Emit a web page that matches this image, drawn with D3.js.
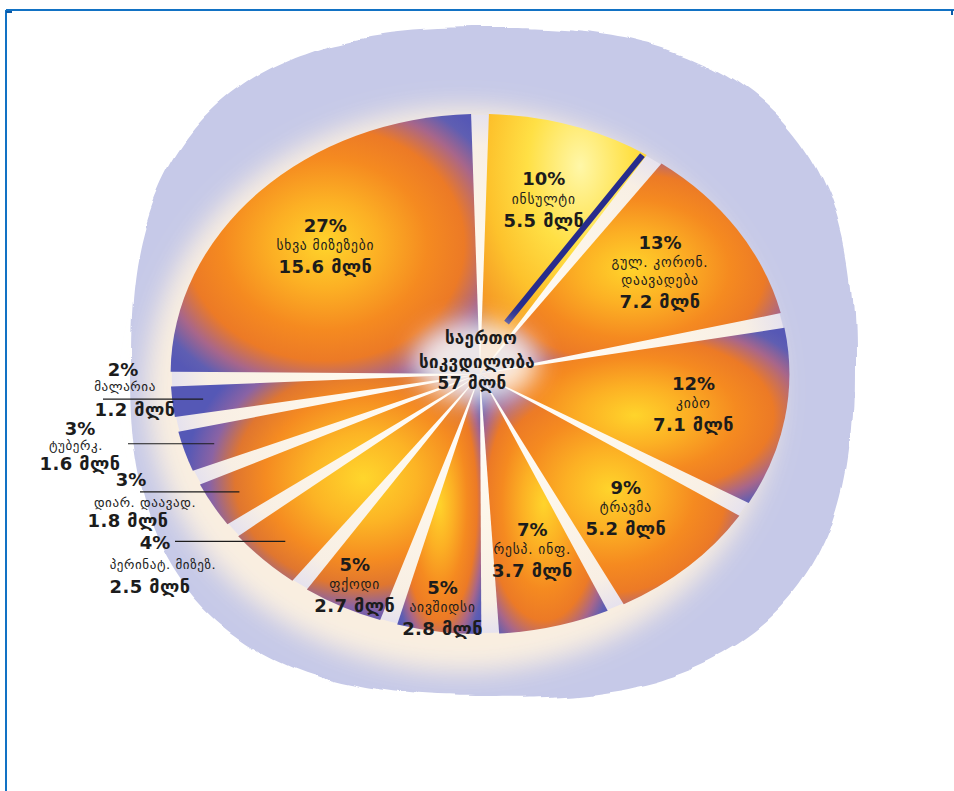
<!DOCTYPE html>
<html>
<head>
<meta charset="utf-8">
<script src="https://cdn.jsdelivr.net/npm/d3@7"></script>
<style>
  html, body { margin: 0; padding: 0; background: #ffffff; }
  svg { display: block; }
  text { font-family: "DejaVu Sans", sans-serif; fill: #1c1c1c; }
</style>
</head>
<body>
<svg id="chart" width="954" height="791"></svg>
<script>
// Causes of death, world total (million deaths), clockwise from 12 o'clock
const categories = ["ინსულტი", "გულ. კორონ.|დაავადება", "კიბო", "ტრავმა", "რესპ. ინფ.", "აივშიდსი",
                    "ფქოდი", "პერინატ. მიზეზ.", "დიარ. დაავად.", "ტუბერკ.", "მალარია", "სხვა მიზეზები"];
const percents   = [10, 13, 12, 9, 7, 5, 5, 4, 3, 3, 2, 27];
const deathsMln  = [5.5, 7.2, 7.1, 5.2, 3.7, 2.8, 2.7, 2.5, 1.8, 1.6, 1.2, 15.6];
const totalLines = ["საერთო", "სიკვდილობა"];
const totalMln   = 57;
const unit       = "მლნ";

// Text placement for the small slices whose labels sit to the left of the pie
// (text x columns and vertical offsets from the leader line)
const calloutLayout = {
  "პერინატ. მიზეზ.": { lineX: 175, pct: [155, 1],   name: [163, 23],  val: [150, 45] },
  "დიარ. დაავად.":   { lineX: 140, pct: [131, -12], name: [145, 11],  val: [128, 29] },
  "ტუბერკ.":         { lineX: 128, pct: [80, -15],  name: [76, 2],    val: [80, 20] },
  "მალარია":         { lineX: 103, pct: [123, -30], name: [125, -13], val: [135, 10] }
};

const W = 954, H = 791;
const cx = 480, cy = 374;   // pie centre
const R = 260;              // radius (vertical)
const k = 1.19;             // horizontal stretch of the pie
const gap = 15;             // width of the gaps between slices

const svg = d3.select("#chart");
const defs = svg.append("defs");

const data = categories.map((c, i) => ({ name: c, pct: percents[i], mln: deathsMln[i] }));
const pie = d3.pie().sort(null).value(d => d.mln).padAngle(gap / R);
const arcs = pie(data);
const arc = d3.arc().innerRadius(0).outerRadius(R).padRadius(R);

const toScreen = (a, r) => [cx + k * r * Math.sin(a), cy - r * Math.cos(a)];

// ---------- filters & gradients ----------
const rough = defs.append("filter").attr("id", "rough")
  .attr("x", "-10%").attr("y", "-10%").attr("width", "120%").attr("height", "120%");
rough.append("feTurbulence").attr("type", "fractalNoise").attr("baseFrequency", 0.011)
  .attr("numOctaves", 2).attr("seed", 7).attr("result", "noise");
rough.append("feDisplacementMap").attr("in", "SourceGraphic").attr("in2", "noise")
  .attr("scale", 15).attr("xChannelSelector", "R").attr("yChannelSelector", "G");

const soft = defs.append("filter").attr("id", "soft")
  .attr("x", "-20%").attr("y", "-20%").attr("width", "140%").attr("height", "140%");
soft.append("feGaussianBlur").attr("stdDeviation", 13);

const haze = defs.append("filter").attr("id", "haze")
  .attr("x", "-50%").attr("y", "-50%").attr("width", "200%").attr("height", "200%");
haze.append("feGaussianBlur").attr("stdDeviation", 12);

const diskGrad = defs.append("radialGradient").attr("id", "diskGrad");
[[0, "#ffffff"], [0.55, "#fdf6ea"], [0.88, "#f8efe4"], [1, "#e6e2ee"]].forEach(([o, c]) =>
  diskGrad.append("stop").attr("offset", o).attr("stop-color", c));

const warmStops = [[0, "#ffd42b"], [0.26, "#fcb024"], [0.5, "#f58a20"], [0.68, "#ec7a26"], [0.82, "#a8668a"], [0.93, "#5f5eb2"], [1, "#5658b5"]];
const sunStops  = [[0, "#fff7a8"], [0.35, "#ffe045"], [0.62, "#fdc22c"], [0.85, "#f59a26"], [1, "#c87a4e"]];

// shared glow for the narrow slices in the lower left (user space of the pie group)
const fanGrad = defs.append("radialGradient").attr("id", "fanGrad")
  .attr("gradientUnits", "userSpaceOnUse")
  .attr("cx", -98).attr("cy", 104).attr("r", 150);
[[0, "#ffd62c"], [0.3, "#fcb425"], [0.55, "#f58b21"], [0.72, "#e0762f"], [0.86, "#8a63a4"], [1, "#5558b6"]]
  .forEach(([o, c]) => fanGrad.append("stop").attr("offset", o).attr("stop-color", c));

arcs.forEach((d, i) => {
  const isSun = d.data.name === "ინსულტი";
  const g = defs.append("radialGradient").attr("id", "slice" + i)
    .attr("cx", isSun ? 0.6 : 0.5).attr("cy", isSun ? 0.2 : 0.5)
    .attr("r", isSun ? 0.9 : 0.66);
  (isSun ? sunStops : warmStops).forEach(([o, c]) =>
    g.append("stop").attr("offset", o).attr("stop-color", c));
});

// ---------- frame ----------
svg.append("line").attr("x1", 6).attr("x2", W).attr("y1", 10).attr("y2", 10)
  .attr("stroke", "#1272c4").attr("stroke-width", 2);
svg.append("line").attr("x1", 6).attr("x2", 6).attr("y1", 10).attr("y2", H)
  .attr("stroke", "#1272c4").attr("stroke-width", 2);
svg.append("line").attr("x1", 6).attr("x2", 12).attr("y1", 12).attr("y2", 12)
  .attr("stroke", "#0b5aa8").attr("stroke-width", 2);
svg.append("line").attr("x1", 952).attr("x2", 952).attr("y1", 10).attr("y2", 15)
  .attr("stroke", "#0b5aa8").attr("stroke-width", 2);

// ---------- lavender backdrop (superellipse with a rough edge) ----------
const bx = 492, by = 363, ba = 362, bb = 334, bn = 2.6;
const blobPts = d3.range(0, 360, 2).map(t => {
  const a = t * Math.PI / 180, c = Math.cos(a), s = Math.sin(a);
  return [bx + ba * Math.sign(c) * Math.pow(Math.abs(c), 2 / bn),
          by + bb * Math.sign(s) * Math.pow(Math.abs(s), 2 / bn)];
});
svg.append("path")
  .attr("d", d3.line().curve(d3.curveCatmullRomClosed)(blobPts))
  .attr("fill", "#c6c9e8")
  .attr("filter", "url(#rough)");

// cream glow around the pie
svg.append("ellipse")
  .attr("cx", cx - 18).attr("cy", cy + 16)
  .attr("rx", R * k + 6).attr("ry", R + 22)
  .attr("fill", "#fff3e0").attr("opacity", 0.9)
  .attr("filter", "url(#soft)");

// ---------- pie ----------
const pieG = svg.append("g").attr("transform", `translate(${cx},${cy}) scale(${k},1)`);

pieG.append("ellipse").attr("rx", R - 1).attr("ry", R - 1).attr("fill", "url(#diskGrad)");

const fanNames = new Set(["ფქოდი", "პერინატ. მიზეზ.", "დიარ. დაავად.", "ტუბერკ.", "მალარია"]);

pieG.selectAll("path.slice")
  .data(arcs)
  .join("path")
  .attr("class", "slice")
  .attr("d", arc)
  .attr("fill", (d, i) => fanNames.has(d.data.name) ? "url(#fanGrad)" : `url(#slice${i})`);

// dark edge along the clockwise side of the stroke slice
arcs.filter(d => d.data.name === "ინსულტი").forEach(d => {
  const a = d.endAngle;
  const off = gap / 2 + 3;
  const ux = Math.sin(a), uy = -Math.cos(a);      // along the edge
  const nx = -Math.cos(a), ny = -Math.sin(a);     // back into the slice
  const t0 = 55, t1 = Math.sqrt(R * R - off * off) - 2;
  const p = t => [cx + k * (t * ux + off * nx), cy + (t * uy + off * ny)];
  svg.append("line")
    .attr("x1", p(t0)[0]).attr("y1", p(t0)[1])
    .attr("x2", p(t1)[0]).attr("y2", p(t1)[1])
    .attr("stroke", "#272c8c").attr("stroke-width", 6);
});

// pale haze where the slices meet, under the total
svg.append("ellipse")
  .attr("cx", cx - 4).attr("cy", cy - 12)
  .attr("rx", 62).attr("ry", 40)
  .attr("fill", "#fffaf0").attr("opacity", 0.88)
  .attr("filter", "url(#haze)");

// ---------- labels ----------
const pctSize = 18, valSize = 18, nameSize = 13.5;

function block(g, lines) {
  lines.forEach(l => {
    g.append("text")
      .attr("x", l.x).attr("y", l.y)
      .attr("text-anchor", l.anchor || "middle")
      .attr("dominant-baseline", "central")
      .attr("font-size", l.size)
      .attr("font-weight", l.weight)
      .attr("letter-spacing", l.ls || 0)
      .text(l.text);
  });
}

const labelG = svg.append("g");

arcs.forEach(d => {
  const mid = (d.startAngle + d.endAngle) / 2;
  const names = d.data.name.split("|");
  const pctTxt = d.data.pct + "%";
  const valTxt = d.data.mln + " " + unit;
  const lay = calloutLayout[d.data.name];

  if (!lay) {
    const f = d.data.mln < 3 ? 0.91 : 0.7;
    const [lx, ly] = toScreen(mid, R * f);
    const rows = [{ text: pctTxt, size: pctSize, weight: "bold", h: 22 }]
      .concat(names.map(n => ({ text: n, size: nameSize, weight: "normal", h: 18, ls: 0.8 })))
      .concat([{ text: valTxt, size: valSize, weight: "bold", h: 25, ls: 0.4 }]);
    const total = d3.sum(rows, r => r.h);
    let y = ly - total / 2;
    rows.forEach(r => { r.x = lx; r.y = y + r.h / 2; y += r.h; });
    block(labelG, rows);
  } else {
    const [ax, ay] = toScreen(mid, R * 0.9);
    labelG.append("line")
      .attr("x1", lay.lineX).attr("x2", ax)
      .attr("y1", ay).attr("y2", ay)
      .attr("stroke", "#1c1c1c").attr("stroke-width", 1.2);
    block(labelG, [
      { text: pctTxt, x: lay.pct[0], y: ay + lay.pct[1], size: pctSize, weight: "bold" },
      { text: names[0], x: lay.name[0], y: ay + lay.name[1], size: nameSize - 0.5, weight: "normal", ls: 0.6 },
      { text: valTxt, x: lay.val[0], y: ay + lay.val[1], size: valSize, weight: "bold", ls: 0.4 }
    ]);
  }
});

// total in the middle
block(labelG, [
  { text: totalLines[0], x: cx + 1, y: cy - 36, size: 17, weight: "bold", ls: 0.3 },
  { text: totalLines[1], x: cx - 3, y: cy - 12, size: 17, weight: "bold", ls: 0.3 },
  { text: totalMln + " " + unit, x: cx - 8, y: cy + 9, size: 17, weight: "bold", ls: 0.3 }
]);
</script>
</body>
</html>
